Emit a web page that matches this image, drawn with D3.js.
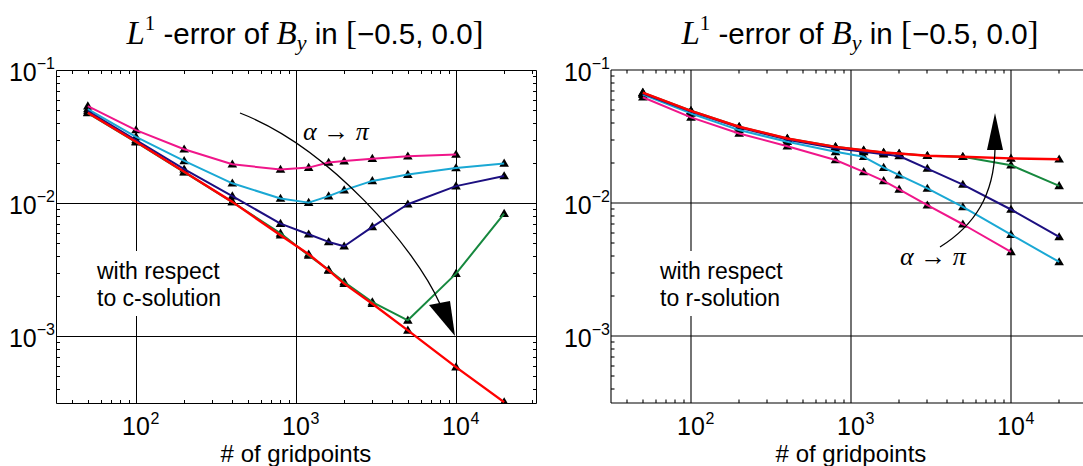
<!DOCTYPE html>
<html><head><meta charset="utf-8">
<script src="https://cdn.jsdelivr.net/npm/d3@7"></script>
<style>body{margin:0;background:#fff}</style>
</head><body>
<svg id="c" width="1083" height="466"></svg>
<script>
// ---------- data ----------
const gridpoints = [50, 100, 200, 400, 800, 1200, 1600, 2000, 3000, 5000, 10000, 20000];
const xTicks = [100, 1000, 10000];
const xTickExp = ["2", "3", "4"];
const yTicks = [0.1, 0.01, 0.001];
const yTickExp = ["-1", "-2", "-3"];

// left panel: with respect to c-solution
const cPink  = [0.0536, 0.0354, 0.0254, 0.0196, 0.0179, 0.0185, 0.0202, 0.0207, 0.0216, 0.0225, 0.0232, null];
const cCyan  = [0.0509, 0.0315, 0.0208, 0.0141, 0.01084, 0.0101, 0.0113, 0.01253, 0.0147, 0.0164, 0.0184, 0.0199];
const cNavy  = [0.0492, 0.0298, 0.0180, 0.0113, 0.00703, 0.00585, 0.00512, 0.00475, 0.00664, 0.00982, 0.01343, 0.0160];
const cGreen = [0.0475, 0.0287, 0.0171, 0.0102, 0.00594, 0.00406, 0.00316, 0.00256, 0.00181, 0.00132, 0.00296, 0.00835];
const cRed   = [0.0478, 0.0289, 0.0172, 0.01023, 0.00574, 0.00414, 0.00313, 0.00249, 0.00176, 0.00111, 0.000588, 0.000321];

// right panel: with respect to r-solution
const rPink  = [0.0624, 0.0441, 0.0334, 0.0268, 0.0211, 0.0172, 0.0147, 0.0127, 0.00966, 0.00695, 0.00431, null];
const rCyan  = [0.0653, 0.0472, 0.0354, 0.0289, 0.0243, 0.0223, 0.0185, 0.01626, 0.0129, 0.00937, 0.00581, 0.00362];
const rNavy  = [0.0665, 0.0488, 0.0370, 0.0300, 0.0258, 0.0243, 0.0233, 0.0226, 0.0182, 0.0138, 0.00897, 0.00558];
const rGreen = [0.0676, 0.0494, 0.0375, 0.0306, 0.0265, 0.0250, 0.0240, 0.0236, 0.0227, 0.0223, 0.0193, 0.01349];
const rRed   = [0.0676, 0.0494, 0.0375, 0.0306, 0.0265, 0.0250, 0.0240, 0.0236, 0.0227, 0.0223, 0.0217, 0.0214];

const seriesColors = ["#f0168a", "#1aa8d4", "#1c0f80", "#16883e", "#ff0000"];

// ---------- drawing ----------
const svg = d3.select("#c");
const SANS = "'Liberation Sans', Arial, sans-serif";
const SERIF = "'Liberation Serif', 'DejaVu Serif', serif";
const W = 480, TOP = 70, BOT = 403;

function panel(x0, seriesList, crisp, id, notes) {
  const g = svg.append("g");
  const x = d3.scaleLog().domain([Math.pow(10, 1.5), Math.pow(10, 4.5)]).range([x0, x0 + W]);
  const y = d3.scaleLog().domain([Math.pow(10, -3.5), 0.1]).range([BOT, TOP]);
  const p = v => crisp ? Math.round(v) + 0.5 : Math.round(v);
  const lc = "#000";
  const sw = crisp ? 1 : 1.1;
  const L = p(x0), R = p(x0 + W), T = p(TOP), B = p(BOT);

  g.append("defs").append("clipPath").attr("id", id)
    .append("rect").attr("x", x0).attr("y", TOP).attr("width", W).attr("height", BOT - TOP);

  // minor ticks
  const minorX = [];
  for (let d = 1; d <= 4; d++) for (let k = 2; k <= 9; k++) {
    const v = k * Math.pow(10, d);
    if (v > x.domain()[0] && v < x.domain()[1]) minorX.push(v);
  }
  const minorY = [];
  for (let d = -4; d <= -2; d++) for (let k = 2; k <= 9; k++) {
    const v = k * Math.pow(10, d);
    if (v > y.domain()[0] && v < y.domain()[1]) minorY.push(v);
  }
  const tk = g.append("g").attr("stroke", lc).attr("stroke-width", sw);
  minorX.forEach(v => {
    const xx = p(x(v));
    tk.append("line").attr("x1", xx).attr("x2", xx).attr("y1", B).attr("y2", B - 3.5);
    tk.append("line").attr("x1", xx).attr("x2", xx).attr("y1", T).attr("y2", T + 3.5);
  });
  minorY.forEach(v => {
    const yy = p(y(v));
    tk.append("line").attr("x1", L).attr("x2", L + 3.5).attr("y1", yy).attr("y2", yy);
    if (crisp) tk.append("line").attr("x1", R).attr("x2", R - 3.5).attr("y1", yy).attr("y2", yy);
  });

  // grid
  const gr = g.append("g").attr("stroke", lc).attr("stroke-width", sw);
  xTicks.forEach(v => gr.append("line").attr("x1", p(x(v))).attr("x2", p(x(v))).attr("y1", T).attr("y2", B));
  yTicks.slice(1).forEach(v => gr.append("line").attr("x1", L).attr("x2", R).attr("y1", p(y(v))).attr("y2", p(y(v))));

  // frame
  gr.append("line").attr("x1", L).attr("x2", R).attr("y1", T).attr("y2", T);
  gr.append("line").attr("x1", L).attr("x2", R).attr("y1", B).attr("y2", B);
  gr.append("line").attr("x1", L).attr("x2", L).attr("y1", T).attr("y2", B);
  if (crisp) gr.append("line").attr("x1", R).attr("x2", R).attr("y1", T).attr("y2", B);

  // annotation box
  const nb = g.append("g");
  nb.append("rect").attr("x", x0 + 30).attr("y", 251).attr("width", notes.w).attr("height", 65).attr("fill", "#fff");
  nb.append("text").attr("x", x0 + notes.dx).attr("y", 279).attr("font-family", SANS).attr("font-size", 23).text("with respect");
  nb.append("text").attr("x", x0 + notes.dx).attr("y", 306).attr("font-family", SANS).attr("font-size", 23).text(notes.line2);

  // data
  const plot = g.append("g").attr("clip-path", `url(#${id})`);
  const tri = "M0,-4.8L4.8,3.3L-4.8,3.3Z";
  seriesList.forEach(vals => {
    gridpoints.forEach((gp, i) => {
      if (vals[i] == null) return;
      plot.append("path").attr("d", tri).attr("fill", "#000")
        .attr("transform", `translate(${x(gp)},${y(vals[i])})`);
    });
  });
  const line = d3.line().defined(d => d[1] != null).x(d => x(d[0])).y(d => y(d[1]));
  seriesList.forEach((vals, si) => {
    plot.append("path").attr("d", line(gridpoints.map((gp, i) => [gp, vals[i]])))
      .attr("fill", "none").attr("stroke", seriesColors[si])
      .attr("stroke-width", si === 4 ? 2.4 : 2).attr("stroke-linejoin", "round");
  });

  // tick labels
  xTicks.forEach((v, i) => {
    const t = g.append("text").attr("x", x(v)).attr("y", 435).attr("text-anchor", "middle")
      .attr("font-family", SANS).attr("font-size", 25).text("10");
    const w = t.node().getComputedTextLength();
    g.append("text").attr("x", x(v) + w / 2 + 0.5).attr("y", 424).attr("font-family", SANS)
      .attr("font-size", 16).text(xTickExp[i]);
  });
  yTicks.forEach((v, i) => {
    const t = g.append("text").attr("x", x0 - 1).attr("y", y(v) + 11).attr("text-anchor", "end")
      .attr("font-family", SANS).attr("font-size", 25);
    t.append("tspan").text("10");
    t.append("tspan").attr("dy", -12).attr("font-size", 16).text(yTickExp[i].replace("-", "\u2212"));
  });
  // axis label
  g.append("text").attr("x", x0 + 240).attr("y", 462).attr("text-anchor", "middle")
    .attr("font-family", SANS).attr("font-size", 24).text("# of gridpoints");

  // title
  const tt = g.append("text").attr("x", x0 + 249).attr("y", 44).attr("text-anchor", "middle")
    .attr("font-size", 29.5).attr("font-family", SANS);
  tt.append("tspan").attr("font-family", SERIF).attr("font-style", "italic").attr("font-size", 33).text("L");
  tt.append("tspan").attr("font-family", SERIF).attr("font-size", 21).attr("dy", -14).text("1");
  tt.append("tspan").attr("dy", 14).text(" -error of ");
  tt.append("tspan").attr("font-family", SERIF).attr("font-style", "italic").attr("font-size", 33).text("B");
  tt.append("tspan").attr("font-family", SERIF).attr("font-style", "italic").attr("font-size", 22).attr("dy", 6).text("y");
  tt.append("tspan").attr("dy", -6).text(" in ");
  tt.append("tspan").attr("font-family", SERIF).attr("font-size", 33).text("[");
  tt.append("tspan").text("\u22120.5, 0.0");
  tt.append("tspan").attr("font-family", SERIF).attr("font-size", 33).text("]");

  return { g, x, y };
}

const left = panel(56, [cPink, cCyan, cNavy, cGreen, cRed], true, "clipL", { w: 150, dx: 41, line2: "to c-solution" });
const right = panel(611, [rPink, rCyan, rNavy, rGreen, rRed], false, "clipR", { w: 150, dx: 49, line2: "to r-solution" });

// alpha -> pi annotations with curved arrows
function alphaLabel(g, xx, yy) {
  const t = g.append("text").attr("x", xx).attr("y", yy).attr("font-size", 26).attr("font-family", SERIF);
  t.append("tspan").attr("font-style", "italic").text("\u03b1");
  t.append("tspan").text(" \u2192 ");
  t.append("tspan").attr("font-style", "italic").text("\u03c0");
}
alphaLabel(left.g, 303, 140);
alphaLabel(right.g, 900, 265);

left.g.append("path").attr("d", "M240,113 C330,148 415,248 440,304")
  .attr("fill", "none").attr("stroke", "#000").attr("stroke-width", 1.3);
left.g.append("path").attr("d", "M429,305 L450,301 L455,336 Z").attr("fill", "#000");

right.g.append("path").attr("d", "M940,247 C975,225 994,195 995,149")
  .attr("fill", "none").attr("stroke", "#000").attr("stroke-width", 1.3);
right.g.append("path").attr("d", "M987,150 L1003,150 L995,113 Z").attr("fill", "#000");
</script>
</body></html>
